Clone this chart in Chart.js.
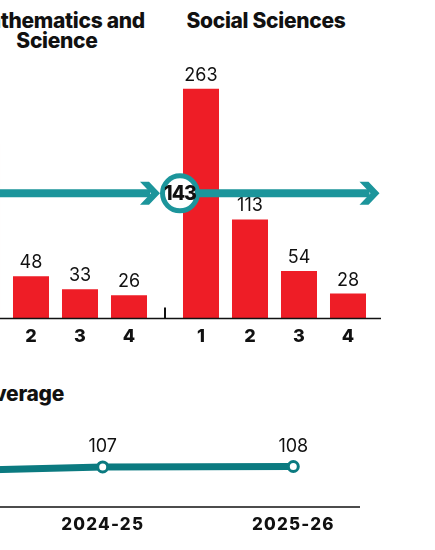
<!DOCTYPE html>
<html>
<head>
<meta charset="utf-8">
<script src="https://cdn.jsdelivr.net/npm/chart.js@4.4.1/dist/chart.umd.min.js"></script>
<style>
  body { margin: 0; width: 435px; height: 550px; overflow: hidden; background: #fff; position: relative; font-family: Inter, sans-serif; }
  .box { position: absolute; }
  .title { position: absolute; font-weight: 800; font-size: 21px; line-height: 20px; letter-spacing: -0.3px; color: #111; text-align: center; white-space: nowrap; }
</style>
</head>
<body>
<div class="title" style="left:-63px; top:11px; width:240px;">Mathematics and<br>Science</div>
<div class="title" style="left:146px; top:11px; width:240px;">Social Sciences</div>
<div class="box" style="left:-54px; top:50px; width:219px; height:310px;"><canvas id="mathChart"></canvas></div>
<div class="box" style="left:0; top:50px; width:381px; height:310px;"><canvas id="socialChart"></canvas></div>
<div class="title" style="right:371px; top:384px; text-align:right;">Average</div>
<div class="box" style="left:-140px; top:410px; width:510px; height:140px;"><canvas id="avgChart"></canvas></div>

<script>
// data
const mathLabels = ['1', '2', '3', '4'];
const mathValues = [200, 48, 33, 26];
const socialLabels = ['1', '2', '3', '4'];
const socialValues = [263, 113, 54, 28];
const overallAverage = 143;
const years = ['2023-24', '2024-25', '2025-26'];
const yearValues = [94, 107, 108];

const RED = '#ee1d26';
const TEAL = '#1c959b';
const DARK_TEAL = '#0b7a80';

Chart.defaults.font.family = 'Inter';
Chart.defaults.color = '#111';

// numbers above bars / points
const valueLabels = {
  id: 'valueLabels',
  afterDatasetsDraw(chart, args, opts) {
    const ctx = chart.ctx;
    const data = chart.data.datasets[0].data;
    ctx.save();
    ctx.letterSpacing = '0px';
    ctx.font = '400 18px Inter';
    ctx.fillStyle = '#111';
    ctx.textAlign = 'center';
    chart.getDatasetMeta(0).data.forEach((el, i) => {
      ctx.fillText(data[i], el.x, el.y - opts.gap);
    });
    ctx.restore();
  }
};

// axis line, stretched past the plot area
const baseline = {
  id: 'baseline',
  afterDatasetsDraw(chart, args, opts) {
    const { ctx, chartArea } = chart;
    const y = chartArea.bottom + 0.5;
    const x0 = chartArea.left - opts.left;
    ctx.save();
    ctx.strokeStyle = '#111';
    ctx.lineWidth = 1.5;
    ctx.beginPath();
    ctx.moveTo(x0, y);
    ctx.lineTo(chartArea.right + opts.right, y);
    ctx.stroke();
    if (opts.tick) {
      ctx.lineWidth = 2;
      ctx.beginPath();
      ctx.moveTo(x0, y);
      ctx.lineTo(x0, y - 11);
      ctx.stroke();
    }
    ctx.restore();
  }
};

// average marker: arrow across the panels with a ring label
const averageArrow = {
  id: 'averageArrow',
  afterDraw(chart, args, opts) {
    const { ctx, chartArea, scales } = chart;
    const y = scales.y.getPixelForValue(opts.value);
    const cx = chartArea.left + 3.5;
    const r = 17.5;
    const leftTip = cx - r - 2.5;
    const rightTip = chartArea.right + 7;

    function chevron(t) {
      ctx.beginPath();
      ctx.moveTo(t, y);
      ctx.lineTo(t - 11, y - 11.5);
      ctx.lineTo(t - 20, y - 11.5);
      ctx.lineTo(t - 9, y);
      ctx.lineTo(t - 20, y + 11.5);
      ctx.lineTo(t - 11, y + 11.5);
      ctx.closePath();
      ctx.fill();
    }

    ctx.save();
    ctx.strokeStyle = TEAL;
    ctx.fillStyle = TEAL;
    ctx.lineWidth = 8;
    ctx.beginPath();
    ctx.moveTo(0, y);
    ctx.lineTo(leftTip - 10, y);
    ctx.moveTo(cx + r, y);
    ctx.lineTo(rightTip - 10, y);
    ctx.stroke();
    chevron(leftTip);
    chevron(rightTip);

    ctx.beginPath();
    ctx.arc(cx, y, r, 0, Math.PI * 2);
    ctx.fillStyle = '#fff';
    ctx.fill();
    ctx.lineWidth = 5;
    ctx.strokeStyle = TEAL;
    ctx.stroke();

    ctx.fillStyle = '#111';
    ctx.font = '800 19.5px Inter';
    ctx.textAlign = 'center';
    ctx.textBaseline = 'middle';
    ctx.letterSpacing = '-1px';
    ctx.fillText(opts.value, cx, y + 1);
    ctx.restore();
  }
};

// wider tracking on the year labels
const trackedTicks = {
  id: 'trackedTicks',
  beforeDraw(chart) { chart.ctx.letterSpacing = '1.2px'; },
  beforeDatasetsDraw(chart) { chart.ctx.letterSpacing = '0px'; }
};

const barScales = {
  x: {
    offset: true,
    grid: { display: false, drawTicks: false },
    border: { display: false },
    ticks: { color: '#111', padding: 8, font: { size: 18, weight: '800' } }
  },
  y: { display: false, min: 0, max: 300 }
};

// Mathematics and Science
new Chart(document.getElementById('mathChart'), {
  type: 'bar',
  data: {
    labels: mathLabels,
    datasets: [{ data: mathValues, backgroundColor: RED, barPercentage: 0.735, categoryPercentage: 1 }]
  },
  options: {
    animation: false,
    responsive: true,
    maintainAspectRatio: false,
    layout: { padding: { left: 11.5, right: 11.5, top: 6.4, bottom: 4.4 } },
    plugins: {
      legend: { display: false },
      tooltip: { enabled: false },
      valueLabels: { gap: 8 },
      baseline: { left: 11.5, right: 11.5 }
    },
    scales: barScales
  },
  plugins: [valueLabels, baseline]
});

// Social Sciences
new Chart(document.getElementById('socialChart'), {
  type: 'bar',
  data: {
    labels: socialLabels,
    datasets: [{ data: socialValues, backgroundColor: RED, barPercentage: 0.735, categoryPercentage: 1 }]
  },
  options: {
    animation: false,
    responsive: true,
    maintainAspectRatio: false,
    layout: { padding: { left: 176.5, right: 8.5, top: 6.4, bottom: 4.4 } },
    plugins: {
      legend: { display: false },
      tooltip: { enabled: false },
      valueLabels: { gap: 8 },
      baseline: { left: 11.5, right: 8.5, tick: true },
      averageArrow: { value: overallAverage }
    },
    scales: barScales
  },
  plugins: [valueLabels, baseline, averageArrow]
});

// Average by year
new Chart(document.getElementById('avgChart'), {
  type: 'line',
  data: {
    labels: years,
    datasets: [{
      data: yearValues,
      borderColor: DARK_TEAL,
      borderWidth: 7,
      pointRadius: 5,
      pointBorderWidth: 3,
      pointBackgroundColor: '#fff',
      pointBorderColor: DARK_TEAL,
      clip: false
    }]
  },
  options: {
    animation: false,
    responsive: true,
    maintainAspectRatio: false,
    layout: { padding: { left: 52.1, right: 76.7, top: 41, bottom: 7.2 } },
    plugins: {
      legend: { display: false },
      tooltip: { enabled: false },
      valueLabels: { gap: 15 },
      baseline: { left: 0, right: 66.7 }
    },
    scales: {
      x: {
        offset: false,
        grid: { display: false, drawTicks: false },
        border: { display: false },
        ticks: { color: '#111', padding: 8, font: { size: 17, weight: '800' } }
      },
      y: { display: false, min: 0, max: 150 }
    }
  },
  plugins: [trackedTicks, valueLabels, baseline]
});
</script>
</body>
</html>
